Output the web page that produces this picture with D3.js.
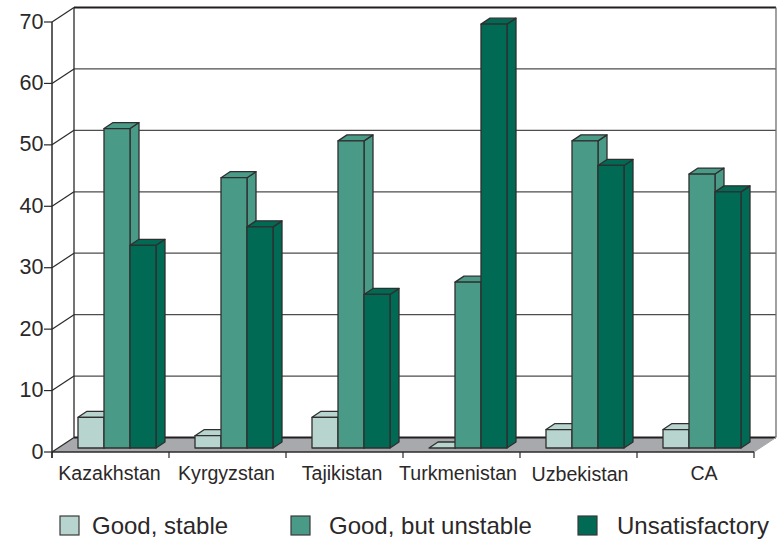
<!DOCTYPE html>
<html><head><meta charset="utf-8">
<script src="https://cdn.jsdelivr.net/npm/d3@7"></script>
<style>html,body{margin:0;padding:0;background:#fff}svg{display:block}text{font-family:"Liberation Sans",Arial,sans-serif;fill:#2b2829}</style>
</head><body><svg id="c" width="778" height="539"></svg>
<script>
const categories=["Kazakhstan","Kyrgyzstan","Tajikistan","Turkmenistan","Uzbekistan","CA"];
const seriesNames=["Good, stable","Good, but unstable","Unsatisfactory"];
const goodStable=[5,2,5,0,3,3];
const goodUnstable=[52,44,50,27,50,44.6];
const unsatisfactory=[33,36,25,69,46,41.7];
const yTicks=[0,10,20,30,40,50,60,70];
const seriesValues=[goodStable,goodUnstable,unsatisfactory];
const frontCol=["#b8d4ce","#4a9a88","#006a54"], topCol=["#b8d4ce","#4a9a88","#006a54"], sideCol=["#b8d4ce","#4a9a88","#006a54"];
const ink="#2b2829";
const svg=d3.select("#c");
const y=d3.scaleLinear().domain([0,70]).range([452,22]);
const x=d3.scaleBand().domain(categories).range([52,754]);
const DX=22,DY=-14.5;
const pts=a=>a.map(p=>p.join(",")).join(" ");
// floor
svg.append("polygon").attr("points",pts([[52,y(0)],[754,y(0)],[754+DX,y(0)+DY],[52+DX,y(0)+DY]])).attr("fill","#a7a9ac");
// grid
yTicks.forEach(t=>{
  const yy=y(t);
  svg.append("line").attr("x1",52).attr("x2",52+DX).attr("y1",yy).attr("y2",yy+DY).attr("stroke",ink).attr("stroke-width",1.2);
  svg.append("line").attr("x1",52+DX).attr("x2",754+DX).attr("y1",yy+DY).attr("y2",yy+DY)
    .attr("stroke",t===70||t===0?"#231f20":"#4d4d4f").attr("stroke-width",t===70||t===0?2:1.2);
  svg.append("line").attr("x1",44).attr("x2",52).attr("y1",yy).attr("y2",yy).attr("stroke",ink).attr("stroke-width",1.2);
  svg.append("text").attr("x",43.5).attr("y",yy+6.5).attr("text-anchor","end").attr("font-size",21.5).text(t);
});
svg.append("line").attr("x1",52+DX).attr("x2",52+DX).attr("y1",y(70)+DY).attr("y2",y(0)+DY).attr("stroke",ink).attr("stroke-width",1.3);
svg.append("line").attr("x1",754+DX).attr("x2",754+DX).attr("y1",y(70)+DY).attr("y2",y(0)+DY).attr("stroke","#6d6e71").attr("stroke-width",1.3);
// axes
svg.append("line").attr("x1",52).attr("x2",52).attr("y1",y(70)).attr("y2",y(0)+6).attr("stroke",ink).attr("stroke-width",1.5);
svg.append("line").attr("x1",52).attr("x2",754).attr("y1",y(0)).attr("y2",y(0)).attr("stroke",ink).attr("stroke-width",1.5);
svg.append("line").attr("x1",754).attr("x2",754+DX).attr("y1",y(0)).attr("y2",y(0)+DY).attr("stroke","#a7a9ac");
categories.forEach((c,i)=>{
  const l=x(c);
  svg.append("line").attr("x1",l).attr("x2",l).attr("y1",y(0)).attr("y2",y(0)+6).attr("stroke",ink).attr("stroke-width",1.2);
  if(i===categories.length-1) svg.append("line").attr("x1",l+x.bandwidth()).attr("x2",l+x.bandwidth()).attr("y1",y(0)).attr("y2",y(0)+6).attr("stroke",ink).attr("stroke-width",1.2);
});
const labelX=[109.5,226.5,342,458,580,704];
categories.forEach((c,i)=>svg.append("text").attr("x",labelX[i]).attr("y",i===4?481:480).attr("text-anchor","middle").attr("font-size",19.6).text(c));
// bars
const bw=26,bdx=9,bdy=-6,baseShift=-4,lead=26;
categories.forEach(c=>{
  seriesValues.forEach((vals,s)=>{
    const v=vals[categories.indexOf(c)];
    const x0=x(c)+lead+s*bw,x1=x0+bw,yb=y(0)+baseShift,yt=y(v)+baseShift;
    const g=svg.append("g").attr("stroke","#2f2f2f").attr("stroke-width",1.3).attr("stroke-linejoin","round");
    g.append("polygon").attr("points",pts([[x1,yb],[x1+bdx,yb+bdy],[x1+bdx,yt+bdy],[x1,yt]])).attr("fill",sideCol[s]);
    g.append("polygon").attr("points",pts([[x0,yt],[x0+bdx,yt+bdy],[x1+bdx,yt+bdy],[x1,yt]])).attr("fill",topCol[s]);
    g.append("rect").attr("x",x0).attr("y",yt).attr("width",bw).attr("height",yb-yt).attr("fill",frontCol[s]);
  });
});
// legend
const legX=[60,291,578],legT=[92,329,617];
seriesNames.forEach((n,i)=>{
  svg.append("rect").attr("x",legX[i]).attr("y",516).attr("width",19).attr("height",19).attr("fill",frontCol[i]).attr("stroke","#3a3a3a").attr("stroke-width",1.2);
  svg.append("text").attr("x",legT[i]).attr("y",533.5).attr("font-size",24).text(n);
});
</script></body></html>
